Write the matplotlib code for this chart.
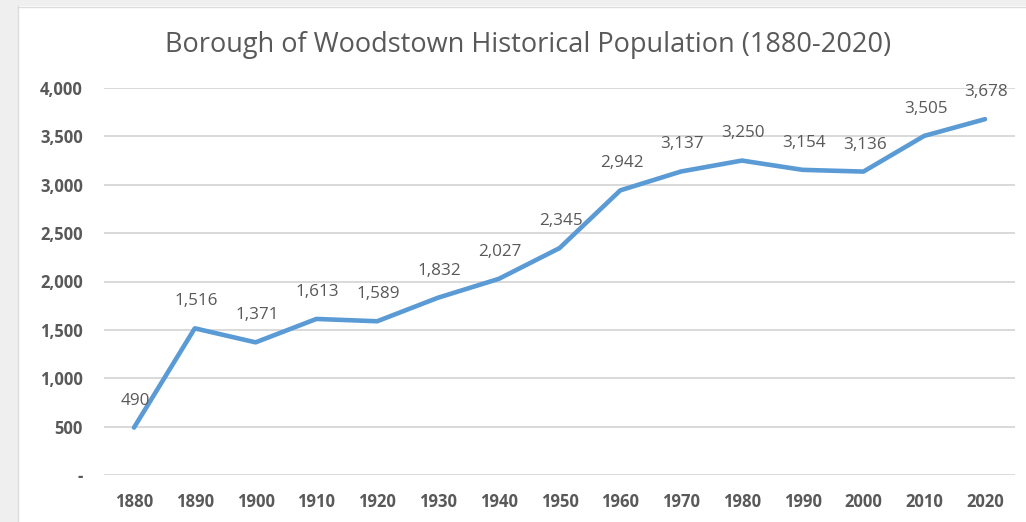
import matplotlib
matplotlib.use("Agg")
import matplotlib.pyplot as plt
from matplotlib.patches import Rectangle
from matplotlib.ticker import FuncFormatter

years = ["1880", "1890", "1900", "1910", "1920", "1930", "1940", "1950",
         "1960", "1970", "1980", "1990", "2000", "2010", "2020"]
population = [490, 1516, 1371, 1613, 1589, 1832, 2027, 2345,
              2942, 3137, 3250, 3154, 3136, 3505, 3678]
yticks = [0, 500, 1000, 1500, 2000, 2500, 3000, 3500, 4000]
title = "Borough of Woodstown Historical Population (1880-2020)"

plt.rcParams['font.family'] = ['Open Sans', 'DejaVu Sans']
text_color = "#595959"
grid_color = "#d9d9d9"
line_color = "#5b9bd5"

W, H = 1026, 522
fig = plt.figure(figsize=(W / 100, H / 100), dpi=100)
fig.patch.set_facecolor("white")

# gray screenshot border strips (left and top)
fig.patches.append(Rectangle((0, 0), 18 / W, 1, transform=fig.transFigure,
                             facecolor="#efefef", edgecolor="none", zorder=0))
fig.patches.append(Rectangle((0, 1 - 6 / H), 1, 6 / H, transform=fig.transFigure,
                             facecolor="#efefef", edgecolor="none", zorder=0))
fig.lines.append(plt.Line2D([18 / W, 18 / W], [0, 1 - 6 / H], transform=fig.transFigure,
                            color="#dcdcdc", lw=1))
fig.lines.append(plt.Line2D([18 / W, 1], [1 - 6.5 / H, 1 - 6.5 / H], transform=fig.transFigure,
                            color="#dcdcdc", lw=1))

left = 103.6 / W
right = 1015.4 / W
bottom = 1 - 475 / H
top = 1 - 88 / H
ax = fig.add_axes([left, bottom, right - left, top - bottom])
ax.set_facecolor("none")

x = list(range(len(years)))
ax.plot(x, population, color=line_color, lw=3.3, solid_capstyle="round",
        solid_joinstyle="round", zorder=3)

for xi, v in zip(x, population):
    ax.annotate(f"{v:,}", (xi, v), xytext=(1, 19.5), textcoords="offset points",
                ha="center", va="center", fontsize=12.3, color=text_color, zorder=4)

ax.set_xlim(-0.5, len(years) - 0.5)
ax.set_ylim(0, 4000)
ax.set_xticks(x)
ax.set_xticklabels(years)
ax.set_yticks(yticks)
ax.yaxis.set_major_formatter(FuncFormatter(lambda v, p: "-" if v == 0 else f"{int(v):,}"))
ax.grid(axis="y", color=grid_color, lw=1.4, zorder=0)
ax.set_axisbelow(True)
for s in ax.spines.values():
    s.set_visible(False)
ax.tick_params(axis="both", length=0, colors=text_color, labelsize=12)
ax.tick_params(axis="x", pad=13)
ax.tick_params(axis="y", pad=15)
for lab in ax.get_xticklabels() + ax.get_yticklabels():
    lab.set_fontweight("bold")
    lab.set_clip_on(False)

fig.text(528 / W, 1 - 45 / H, title, ha="center", va="center",
         fontsize=19.5, color=text_color)

fig.savefig("out.png", dpi=100, facecolor=fig.get_facecolor())
